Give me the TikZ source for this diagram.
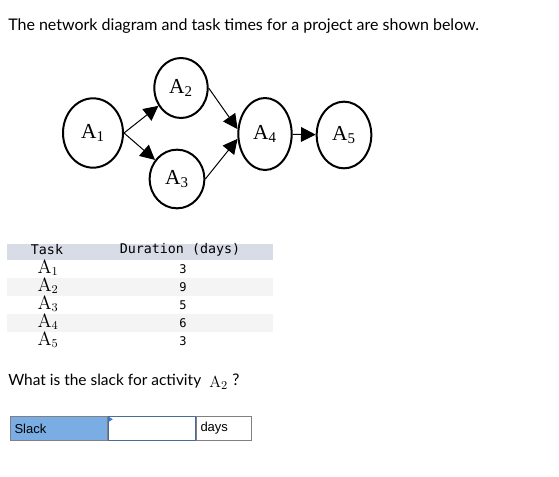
\documentclass[tikz,border=0pt]{standalone}
\usepackage[no-math]{fontspec}
\setmainfont{Lato}
\setmonofont{DejaVu Sans Mono}
\newfontfamily\nodefont{Liberation Serif}
\newfontfamily\boxfont{Liberation Sans}
\usepackage{xcolor}
\usetikzlibrary{positioning,shapes.geometric,arrows.meta}

\definecolor{hdrgray}{RGB}{216,220,230}
\definecolor{rowgray}{RGB}{244,244,244}
\definecolor{slackblue}{RGB}{122,173,228}
\definecolor{inpborder}{RGB}{74,108,155}
\definecolor{flagblue}{RGB}{58,123,213}

\begin{document}
\begin{tikzpicture}[x=0.75pt, y=-0.75pt,
  event/.style={ellipse, draw, line width=1.5pt, inner sep=0pt,
                font=\nodefont\fontsize{16}{18}\selectfont},
  link/.style={-{Triangle[length=11pt, width=11pt]}, line width=0.75pt},
  txt/.style={inner sep=0pt, font=\fontsize{12}{14}\selectfont},
  mono/.style={inner sep=0pt, font=\ttfamily\fontsize{10}{12}\selectfont},
  cell/.style={draw=gray, line width=0.75pt, minimum height=18pt, inner xsep=3pt,
               font=\boxfont\fontsize{9.75}{11}\selectfont, align=left}
]
\useasboundingbox (0,0) rectangle (559,477);

% title
\node[txt, anchor=base west] (title) at (8,31) {The network diagram and task times for a project are shown below.};

% network
\node[event, minimum width=45pt, minimum height=52pt] (a1) at (93,133) {A\textsubscript{1}};
\node[event, minimum width=40pt, minimum height=45pt] (a2) at (181,88)  {A\textsubscript{2}};
\node[event, minimum width=41pt, minimum height=44pt] (a3) at (177,179) {A\textsubscript{3}};
\node[event, minimum width=40pt, minimum height=54pt] (a4) at (265,134) {A\textsubscript{4}};
\node[event, minimum width=41pt, minimum height=50pt] (a5) at (344,135) {A\textsubscript{5}};
\draw[link] (a1.east) -- (a2);
\draw[link] (a1.east) -- (a3);
\draw[link] (a2.east) -- (a4.170);
\draw[link] (a3.east) -- (a4.190);
\draw[link] (a4) -- (a5);

% table
\fill[hdrgray] (7,244) rectangle (273,260);
\fill[rowgray] (7,278) rectangle (273,296);
\fill[rowgray] (7,314) rectangle (273,332);
\node[mono] (taskhd) at (47,250) {Task};
\node[mono] (durhd) at (180,250) {Duration (days)};
\foreach \i/\d [count=\r] in {1/3,2/9,3/5,4/6,5/3}{
  \node[inner sep=0pt, anchor=base, font=\fontsize{13.5}{15}\selectfont] (t\i) at (48,255+18*\r) {$\mathrm{A}_{\i}$};
  \node[mono, font=\ttfamily\fontsize{9}{11}\selectfont] (d\i) at (183,251+18*\r) {\d};
}

% question
\node[txt, anchor=base west, font=\fontsize{11.6}{14}\selectfont] (quest) at (8,385) {What is the slack for activity};
\node[inner sep=0pt, anchor=base west, font=\fontsize{12.5}{14}\selectfont] (qa2) at (209,387) {$\mathrm{A}_2$};
\node[txt, anchor=base west] (qmark) at (232,385) {?};

% answer box
\node[cell, fill=slackblue, text width=66.75pt, anchor=north west] (slack) at (10,416) {Slack};
\node[cell, draw=inpborder, fill=white, text width=59.25pt, right=0pt of slack] (inp) {};
\node[cell, text width=35pt, right=0pt of inp] (days) {days};
\fill[flagblue] ([xshift=0.6pt,yshift=-0.6pt]inp.north west) -- ++(4,2.5) -- ++(-4,2.5) -- cycle;
\end{tikzpicture}
\end{document}
